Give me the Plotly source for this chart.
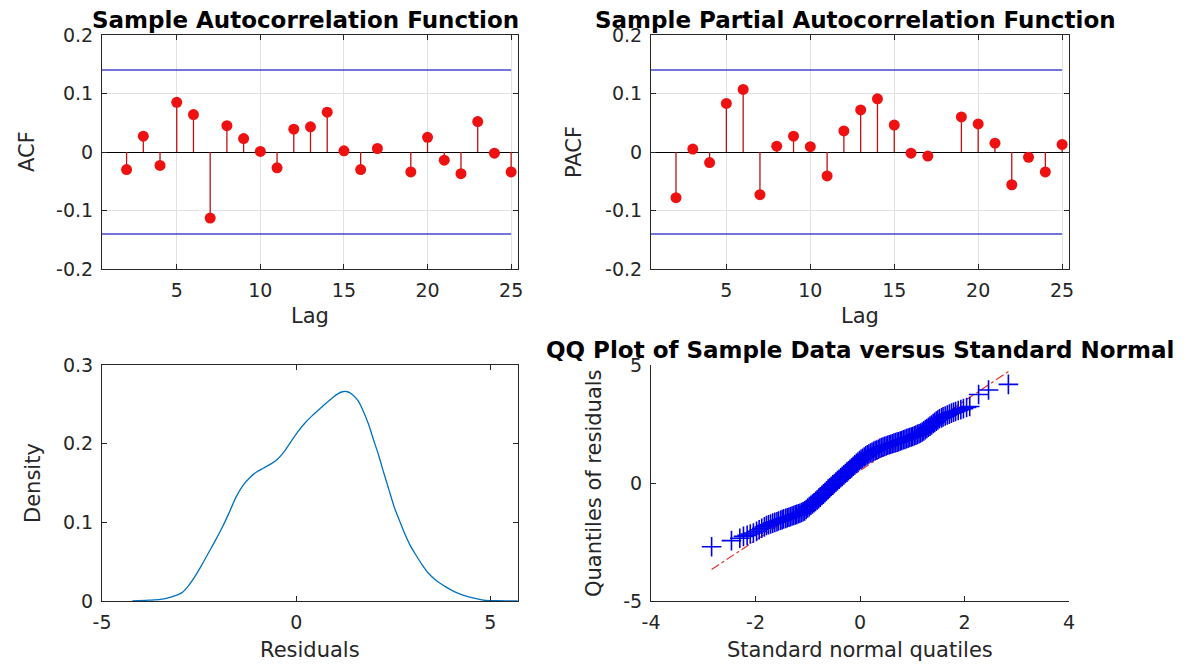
import plotly.graph_objects as go

# target picture size and the 8px page margin the browser adds around the figure
W_PAGE, H_PAGE = 1203, 670
OFF = 8
W, H = W_PAGE - OFF, H_PAGE - OFF

# ---------------- data ----------------
lags = list(range(1, 26))
acf_vals = [None, -0.030, 0.027, -0.023, 0.085, 0.064, -0.113, 0.045, 0.023, 0.001,
            -0.027, 0.039, 0.043, 0.068, 0.002, -0.030, 0.006, None, -0.034, 0.025,
            -0.014, -0.037, 0.052, -0.002, -0.034]
pacf_vals = [None, -0.078, 0.005, -0.018, 0.083, 0.107, -0.073, 0.010, 0.027, 0.009,
             -0.041, 0.036, 0.072, 0.091, 0.046, -0.002, -0.007, None, 0.060, 0.048,
             0.015, -0.056, -0.009, -0.034, 0.013]
bound_lags = [0, 25]
upper_bound = [0.14, 0.14]
lower_bound = [-0.14, -0.14]

lag_ticks = [5, 10, 15, 20, 25]
corr_ticks = [-0.2, -0.1, 0, 0.1, 0.2]
corr_ticktext = ["-0.2", "-0.1", "0", "0.1", "0.2"]

dens_x = [-4.22, -3.80, -3.50, -3.23, -2.96, -2.78, -2.61, -2.44, -2.26, -2.08,
          -1.90, -1.72, -1.55, -1.37, -1.19, -1.02, -0.84, -0.66, -0.49, -0.31,
          -0.13, 0.04, 0.22, 0.40, 0.58, 0.76, 0.93, 1.06, 1.19, 1.32,
          1.46, 1.60, 1.73, 1.86, 1.99, 2.13, 2.26, 2.39, 2.52, 2.66,
          2.79, 2.92, 3.05, 3.23, 3.41, 3.63, 3.85, 4.07, 4.29, 4.55,
          4.82, 5.20, 5.70]
dens_y = [0.000, 0.001, 0.002, 0.005, 0.010, 0.019, 0.031, 0.045, 0.061, 0.077,
          0.094, 0.113, 0.132, 0.147, 0.157, 0.164, 0.169, 0.174, 0.180, 0.190,
          0.203, 0.215, 0.226, 0.235, 0.243, 0.251, 0.258, 0.263, 0.266, 0.266,
          0.262, 0.254, 0.241, 0.225, 0.205, 0.184, 0.162, 0.141, 0.120, 0.102,
          0.086, 0.072, 0.061, 0.047, 0.035, 0.025, 0.018, 0.012, 0.0076, 0.004,
          0.001, 0.0003, 0.000]
dens_xticks = [-5, 0, 5]
dens_xticktext = ["-5", "0", "5"]
dens_yticks = [0, 0.1, 0.2, 0.3]
dens_yticktext = ["0", "0.1", "0.2", "0.3"]

qq_x = [-2.84, -2.46, -2.30, -2.23, -2.16, -2.10, -2.04, -1.98, -1.93, -1.88,
        -1.83, -1.79, -1.75, -1.71, -1.67, -1.63, -1.59, -1.56, -1.52, -1.49,
        -1.46, -1.42, -1.39, -1.36, -1.33, -1.30, -1.27, -1.24, -1.21, -1.18,
        -1.15, -1.12, -1.09, -1.06, -1.03, -1.00, -0.97, -0.94, -0.91, -0.88,
        -0.85, -0.82, -0.79, -0.76, -0.73, -0.70, -0.67, -0.64, -0.61, -0.58,
        -0.55, -0.52, -0.49, -0.46, -0.43, -0.40, -0.37, -0.34, -0.31, -0.28,
        -0.25, -0.22, -0.19, -0.16, -0.13, -0.10, -0.07, -0.04, -0.01, 0.02,
        0.05, 0.08, 0.11, 0.14, 0.17, 0.20, 0.23, 0.26, 0.29, 0.32,
        0.35, 0.38, 0.41, 0.44, 0.47, 0.50, 0.53, 0.56, 0.59, 0.62,
        0.65, 0.68, 0.71, 0.74, 0.77, 0.80, 0.83, 0.86, 0.89, 0.92,
        0.95, 0.98, 1.01, 1.04, 1.07, 1.10, 1.13, 1.16, 1.19, 1.22,
        1.25, 1.28, 1.31, 1.34, 1.37, 1.40, 1.43, 1.46, 1.49, 1.52,
        1.56, 1.59, 1.63, 1.67, 1.71, 1.75, 1.79, 1.83, 1.88, 1.93,
        1.98, 2.04, 2.10, 2.27, 2.46, 2.84]
qq_y = [-2.70, -2.44, -2.34, -2.26, -2.22, -2.16, -2.12, -2.05, -1.98, -1.92,
        -1.86, -1.80, -1.77, -1.74, -1.70, -1.67, -1.64, -1.61, -1.58, -1.55,
        -1.52, -1.50, -1.47, -1.45, -1.43, -1.40, -1.38, -1.35, -1.33, -1.30,
        -1.28, -1.25, -1.22, -1.18, -1.12, -1.06, -1.00, -0.94, -0.89, -0.84,
        -0.78, -0.72, -0.66, -0.60, -0.53, -0.47, -0.40, -0.33, -0.26, -0.20,
        -0.14, -0.08, -0.02, 0.04, 0.10, 0.16, 0.22, 0.28, 0.34, 0.40,
        0.46, 0.52, 0.58, 0.64, 0.71, 0.77, 0.83, 0.89, 0.95, 1.00,
        1.05, 1.10, 1.15, 1.19, 1.23, 1.27, 1.30, 1.34, 1.37, 1.40,
        1.43, 1.47, 1.50, 1.52, 1.55, 1.57, 1.60, 1.62, 1.64, 1.66,
        1.69, 1.71, 1.73, 1.75, 1.78, 1.80, 1.83, 1.85, 1.88, 1.90,
        1.93, 1.95, 1.97, 2.00, 2.03, 2.06, 2.09, 2.12, 2.16, 2.21,
        2.26, 2.31, 2.36, 2.41, 2.46, 2.52, 2.57, 2.62, 2.67, 2.72,
        2.76, 2.80, 2.84, 2.88, 2.92, 2.96, 3.00, 3.03, 3.07, 3.11,
        3.15, 3.20, 3.24, 3.75, 3.94, 4.18]
qq_line_x = [-2.84, 2.84]
qq_line_y = [-3.67, 4.72]
qq_xticks = [-4, -2, 0, 2, 4]
qq_xticktext = ["-4", "-2", "0", "2", "4"]
qq_yticks = [-5, 0, 5]
qq_yticktext = ["-5", "0", "5"]

# ---------------- helpers (page pixel -> paper fraction) ----------------
def fx(p):
    return (p - OFF) / W

def fy(p):
    return 1 - (p - OFF) / H

def stems(xs, ys):
    sx, sy, mx, my = [], [], [], []
    for x, y in zip(xs, ys):
        if y is None:
            continue
        sx += [x, x, None]
        sy += [0, y, None]
        mx.append(x)
        my.append(y)
    return sx, sy, mx, my

FONT = "DejaVu Sans"
AX = "#262626"
STEM = "#c01010"
MARK = "#ee1111"
BOUND = "#4646d0"

fig = go.Figure()

for vals, xa, ya in [(acf_vals, "x", "y"), (pacf_vals, "x2", "y2")]:
    sx, sy, mx, my = stems(lags, vals)
    fig.add_trace(go.Scatter(x=bound_lags, y=upper_bound, mode="lines", line=dict(color=BOUND, width=1.5),
                             xaxis=xa, yaxis=ya, showlegend=False))
    fig.add_trace(go.Scatter(x=bound_lags, y=lower_bound, mode="lines", line=dict(color=BOUND, width=1.5),
                             xaxis=xa, yaxis=ya, showlegend=False))
    fig.add_trace(go.Scatter(x=sx, y=sy, mode="lines", line=dict(color=STEM, width=1.3),
                             xaxis=xa, yaxis=ya, showlegend=False))
    fig.add_trace(go.Scatter(x=mx, y=my, mode="markers", marker=dict(color=MARK, size=11),
                             xaxis=xa, yaxis=ya, showlegend=False))

# Density
fig.add_trace(go.Scatter(x=dens_x, y=dens_y, mode="lines",
                         line=dict(color="#0072BD", width=1.3, shape="spline", smoothing=0.8),
                         xaxis="x3", yaxis="y3", showlegend=False))

# QQ
fig.add_trace(go.Scatter(x=qq_line_x, y=qq_line_y, mode="lines", line=dict(color="#e03030", width=1.2, dash="dashdot"),
                         xaxis="x4", yaxis="y4", showlegend=False))
fig.add_trace(go.Scatter(x=qq_x, y=qq_y, mode="markers",
                         marker=dict(symbol="cross-thin", size=14, line=dict(color="#0000ee", width=1.6)),
                         xaxis="x4", yaxis="y4", showlegend=False))

tickfont = dict(family=FONT, size=19, color=AX)

def axis(domain, rng, tickvals, ticktext=None, mirror="ticks", grid=False, zeroline=False):
    d = dict(domain=domain, range=rng, tickvals=tickvals, showline=True, linecolor=AX, linewidth=1,
             mirror=mirror, ticks="inside", ticklen=5, tickcolor=AX, tickwidth=1,
             tickfont=tickfont, showgrid=grid, gridcolor="#e2e2e2", gridwidth=1,
             zeroline=zeroline, zerolinecolor="#000000", zerolinewidth=1,
             ticklabelstandoff=4, fixedrange=True, automargin=False)
    if ticktext is not None:
        d["ticktext"] = ticktext
    return d

top_y = [fy(269), fy(35)]
bot_y = [fy(601), fy(365)]
left_x = [fx(102), fx(518)]
right_x = [fx(651), fx(1069)]

layout = dict(
    template="none",
    width=W, height=H, margin=dict(l=0, r=0, t=0, b=0, pad=0), autosize=False,
    paper_bgcolor="white", plot_bgcolor="white", showlegend=False,
    xaxis=axis(left_x, [0.53, 25.41], lag_ticks, grid=True),
    yaxis=axis(top_y, [-0.2, 0.2], corr_ticks, corr_ticktext, grid=True, zeroline=True),
    xaxis2=axis(right_x, [0.51, 25.41], lag_ticks, grid=True),
    yaxis2=axis(top_y, [-0.2, 0.2], corr_ticks, corr_ticktext, grid=True, zeroline=True),
    xaxis3=axis(left_x, [-5, 5.71], dens_xticks, dens_xticktext),
    yaxis3=axis(bot_y, [0, 0.3], dens_yticks, dens_yticktext),
    xaxis4=axis(right_x, [-4, 4], qq_xticks, qq_xticktext, mirror=False),
    yaxis4=axis(bot_y, [-5, 5], qq_yticks, qq_yticktext, mirror=False),
)
for suf in ["", "2", "3", "4"]:
    layout["xaxis" + suf]["anchor"] = "y" + suf
    layout["yaxis" + suf]["anchor"] = "x" + suf
fig.update_layout(**layout)

title_font = dict(family=FONT, size=23, color="#000000", weight="bold")
label_font = dict(family=FONT, size=21, color=AX)

annotations = [
    dict(text="Sample Autocorrelation Function", x=fx(305), y=fy(20), font=title_font),
    dict(text="Sample Partial Autocorrelation Function", x=fx(855), y=fy(20), font=title_font),
    dict(text="QQ Plot of Sample Data versus Standard Normal", x=fx(860), y=fy(350), font=title_font),
    dict(text="Lag", x=fx(310), y=fy(316), font=label_font),
    dict(text="Lag", x=fx(860), y=fy(316), font=label_font),
    dict(text="Residuals", x=fx(310), y=fy(650), font=label_font),
    dict(text="Standard normal quatiles", x=fx(860), y=fy(650), font=label_font),
    dict(text="ACF", x=fx(27), y=fy(152), font=label_font, textangle=-90),
    dict(text="PACF", x=fx(574), y=fy(152), font=label_font, textangle=-90),
    dict(text="Density", x=fx(33), y=fy(483), font=label_font, textangle=-90),
    dict(text="Quantiles of residuals", x=fx(594), y=fy(483), font=label_font, textangle=-90),
]
for a in annotations:
    a.update(xref="paper", yref="paper", xanchor="center", yanchor="middle", showarrow=False)
fig.update_layout(annotations=annotations)

fig.write_html("out.html")
